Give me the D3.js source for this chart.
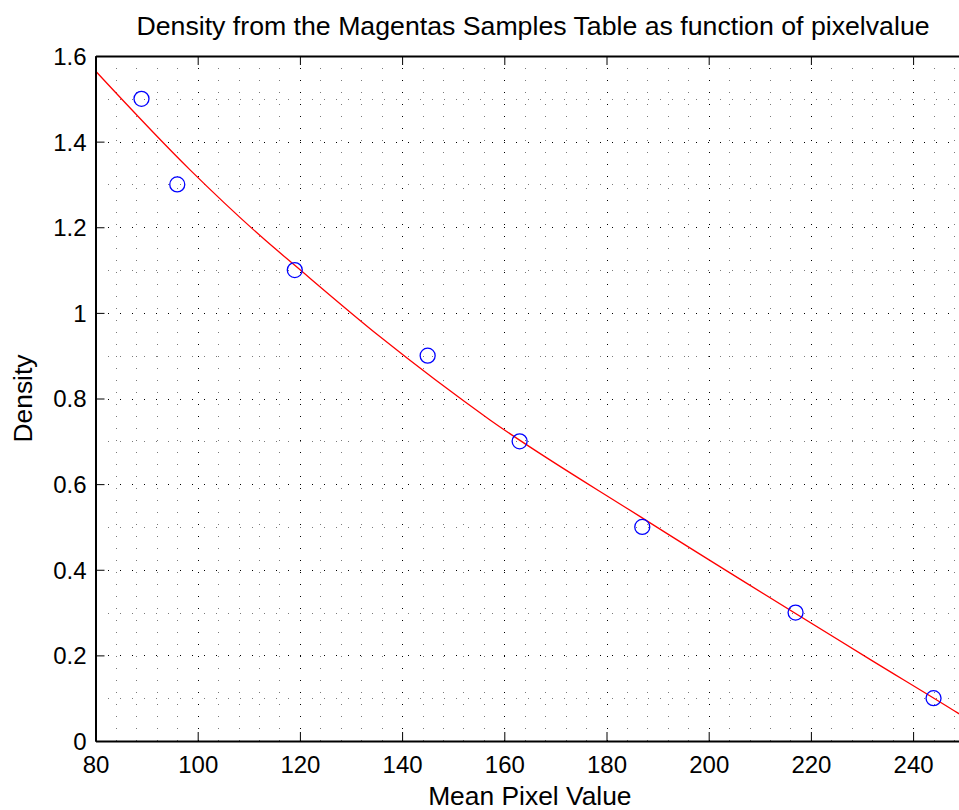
<!DOCTYPE html>
<html>
<head>
<meta charset="utf-8">
<script src="https://cdn.jsdelivr.net/npm/d3@7"></script>
<style>
  html, body { margin: 0; padding: 0; background: #fff; }
  svg { display: block; }
  text { font-family: "Liberation Sans", Arial, Helvetica, sans-serif; fill: #000; }
</style>
</head>
<body>
<svg id="chart" width="959" height="810"></svg>
<script>
// ---- data ----
const titleText = "Density from the Magentas Samples Table as function of pixelvalue";
const xLabelText = "Mean Pixel Value";
const yLabelText = "Density";

const sampleX = [89, 96, 119, 145, 163, 187, 217, 244];
const sampleDensity = [1.5, 1.3, 1.1, 0.9, 0.7, 0.5, 0.3, 0.1];

// red fitted curve
const fitX = [80, 98.5, 113.2, 119, 135.7, 157.2, 186.6, 231.8, 248.8, 250];
const fitDensity = [1.565, 1.334, 1.17, 1.111, 0.944, 0.75, 0.524, 0.189, 0.065, 0.056];

const xTicks = [80, 100, 120, 140, 160, 180, 200, 220, 240];
const yTicks = [0, 0.2, 0.4, 0.6, 0.8, 1, 1.2, 1.4, 1.6];
const xMinorTicks = [84, 88, 92, 96, 104, 108, 112, 116, 124, 128, 132, 136, 144, 148, 152, 156,
  164, 168, 172, 176, 184, 188, 192, 196, 204, 208, 212, 216, 224, 228, 232, 236, 244, 248];
const yMinorTicks = [0.1, 0.3, 0.5, 0.7, 0.9, 1.1, 1.3, 1.5];

// ---- layout ----
const L = 95.5, R = 964.2, T = 56, B = 741;
const svg = d3.select("#chart");
const x = d3.scaleLinear().domain([80, 250]).range([L, R]);
const y = d3.scaleLinear().domain([0, 1.6]).range([B, T]);
const px = v => Math.round(v) + 0.5;

const grid = svg.append("g").attr("shape-rendering", "crispEdges");
function vGrid(data, color) {
  grid.append("g").selectAll("line").data(data).join("line")
    .attr("x1", d => px(x(d))).attr("x2", d => px(x(d))).attr("y1", 741).attr("y2", T)
    .attr("stroke", color).attr("stroke-width", 1).attr("stroke-dasharray", "1,11");
}
function hGrid(data, color) {
  grid.append("g").selectAll("line").data(data).join("line")
    .attr("x1", 96).attr("x2", 960).attr("y1", d => px(y(d))).attr("y2", d => px(y(d)))
    .attr("stroke", color).attr("stroke-width", 1).attr("stroke-dasharray", "1,11");
}
vGrid(xMinorTicks, "#7a7a7a");
hGrid(yMinorTicks, "#7a7a7a");
vGrid(xTicks.slice(1), "#000");
hGrid(yTicks.slice(1, -1), "#000");

// fit curve
const line = d3.line().x((d, i) => x(fitX[i])).y((d, i) => y(fitDensity[i])).curve(d3.curveMonotoneX);
svg.append("path").datum(fitX).attr("d", line)
  .attr("fill", "none").attr("stroke", "#ff0000").attr("stroke-width", 1.3);

// sample circles
svg.selectAll("circle.s").data(sampleX).join("circle")
  .attr("cx", d => x(d)).attr("cy", (d, i) => y(sampleDensity[i])).attr("r", 7.5)
  .attr("fill", "none").attr("stroke", "#0000ff").attr("stroke-width", 1.3);

// axes
const xAxisB = d3.axisBottom(x).tickValues(xTicks).tickSizeInner(-9).tickSizeOuter(0).tickPadding(14)
  .tickFormat(d3.format("d"));
const gx = svg.append("g").attr("transform", `translate(0,${B})`).call(xAxisB);
const xAxisT = d3.axisTop(x).tickValues(xTicks).tickSizeInner(-9).tickSizeOuter(0).tickFormat("");
const gxt = svg.append("g").attr("transform", `translate(0,${T})`).call(xAxisT);
const yAxisL = d3.axisLeft(y).tickValues(yTicks).tickSizeInner(-9).tickSizeOuter(0).tickPadding(9)
  .tickFormat(d => d === 0 || d === 1 ? String(d) : d3.format(".1f")(d));
const gy = svg.append("g").attr("transform", `translate(${L},0)`).call(yAxisL);

[gx, gxt, gy].forEach(g => {
  g.select(".domain").attr("stroke", "#000").attr("stroke-width", 2);
  g.selectAll(".tick line").attr("stroke", "#000").attr("stroke-width", 1);
  g.selectAll(".tick text").attr("font-size", 24).attr("fill", "#000")
    .attr("font-family", '"Liberation Sans", Arial, sans-serif');
});
gx.selectAll(".tick text").attr("dy", null).attr("y", 32);
gy.selectAll(".tick text").attr("dy", "0.35em");

// titles
svg.append("text").attr("x", 533).attr("y", 35).attr("text-anchor", "middle")
  .attr("font-size", 26.7).text(titleText);
svg.append("text").attr("x", (L + R) / 2).attr("y", 805).attr("text-anchor", "middle")
  .attr("font-size", 26.4).text(xLabelText);
svg.append("text").attr("transform", `translate(32,${(T + B) / 2}) rotate(-90)`)
  .attr("text-anchor", "middle").attr("font-size", 26.4).text(yLabelText);
</script>
</body>
</html>
